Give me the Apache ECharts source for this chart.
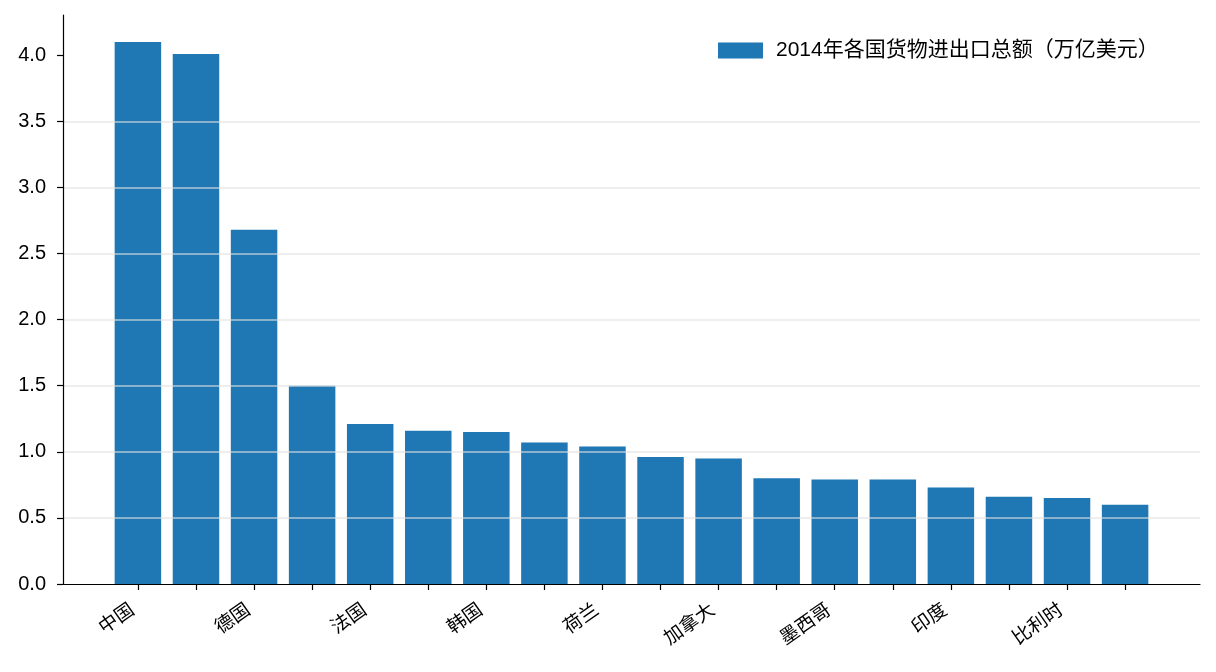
<!DOCTYPE html>
<html>
<head>
<meta charset="utf-8">
<script src="https://cdn.jsdelivr.net/npm/echarts@6/dist/echarts.min.js"></script>
<style>
  html, body { margin: 0; padding: 0; background: #fff; }
  #main { width: 1216px; height: 672px; }
</style>
</head>
<body>
<div id="main"></div>
<script>
var countries = ['中国', '美国', '德国', '日本', '法国', '英国', '韩国', '中国香港', '荷兰',
  '意大利', '加拿大', '新加坡', '墨西哥', '俄罗斯', '印度', '西班牙', '比利时', '阿联酋'];
var tradeTotal = [4.10, 4.01, 2.68, 1.50, 1.21, 1.16, 1.15, 1.07, 1.04,
  0.96, 0.95, 0.80, 0.79, 0.79, 0.73, 0.66, 0.65, 0.60];
var yTicks = [0, 0.5, 1.0, 1.5, 2.0, 2.5, 3.0, 3.5, 4.0];
var seriesName = '2014年各国货物进出口总额（万亿美元）';

var tickIdx = countries.map(function (c, i) { return i; });
var labelIdx = tickIdx.filter(function (i) { return i % 2 === 0; });

var fontFam = "'Liberation Sans', 'Noto Sans CJK SC', sans-serif";
var chart = echarts.init(document.getElementById('main'));

chart.setOption({
  animation: false,
  backgroundColor: '#fff',
  textStyle: { fontFamily: fontFam, color: '#000' },
  grid: { left: 63, right: 16, top: 15, bottom: 88 },
  legend: {
    left: 713, top: 35,
    itemWidth: 45, itemHeight: 16,
    icon: 'rect',
    data: [seriesName],
    textStyle: { fontSize: 21, color: '#000', fontFamily: fontFam, padding: [0, 0, 0, 8] }
  },
  xAxis: {
    type: 'value',
    min: -1.29, max: 18.29,
    axisLine: { show: true, onZero: false, lineStyle: { color: '#000', width: 1.2 } },
    splitLine: { show: false },
    axisTick: { show: true, length: 6, customValues: tickIdx, lineStyle: { color: '#000', width: 1.2 } },
    axisLabel: {
      customValues: labelIdx,
      rotate: 35,
      align: 'right',
      verticalAlign: 'bottom',
      margin: 32,
      fontSize: 19,
      color: '#000',
      formatter: function (v) { return countries[Math.round(v)] || ''; }
    }
  },
  yAxis: {
    type: 'value',
    min: 0, max: 4.305,
    z: 3,
    axisLine: { show: true, onZero: false, lineStyle: { color: '#000', width: 1.2 } },
    axisTick: { show: true, length: 6, customValues: yTicks, lineStyle: { color: '#000', width: 1.2 } },
    axisLabel: {
      customValues: yTicks,
      margin: 17,
      fontSize: 20,
      color: '#000',
      formatter: function (v) { return v.toFixed(1); }
    },
    splitLine: {
      show: true,
      showMinLine: false,
      showMaxLine: false,
      lineStyle: { color: 'rgba(225,225,225,0.75)', width: 1.5 }
    }
  },
  series: [{
    name: seriesName,
    type: 'bar',
    barWidth: 46.5,
    itemStyle: { color: '#1f77b4' },
    data: tradeTotal.map(function (v, i) { return [i, v]; })
  }]
});
</script>
</body>
</html>
